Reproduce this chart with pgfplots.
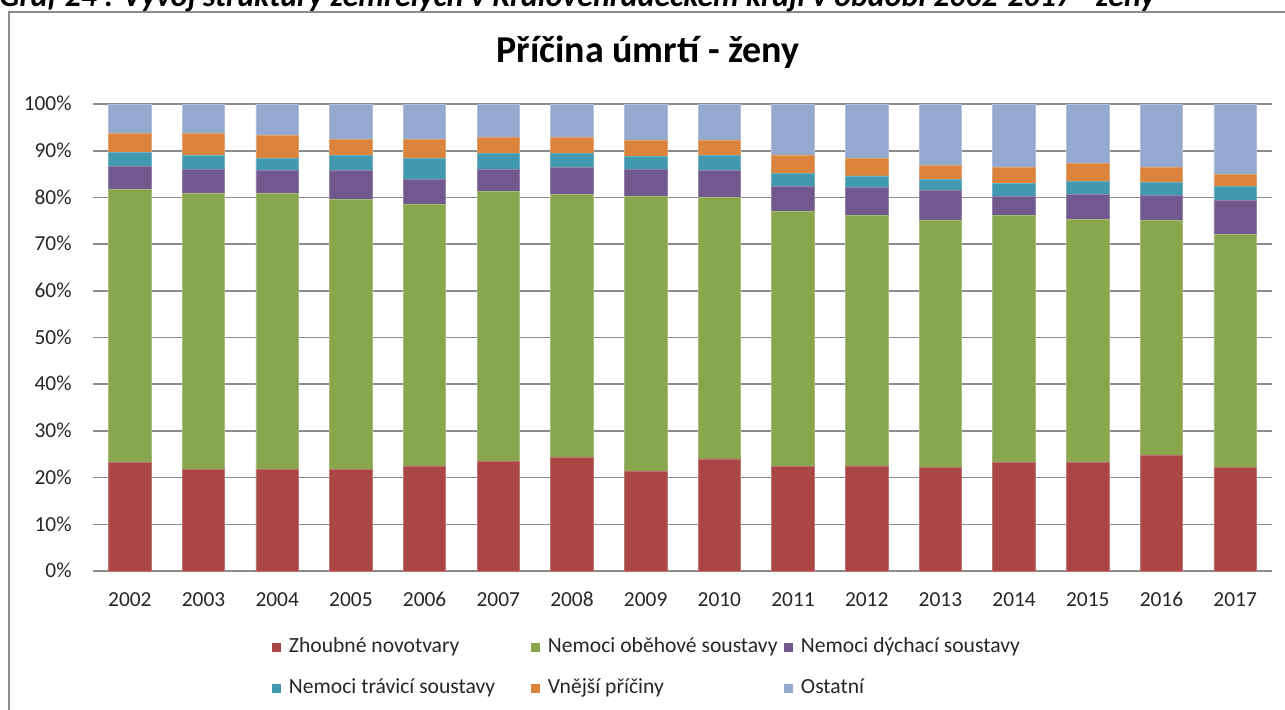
\documentclass[border=0pt]{standalone}
\usepackage{pgfplots}
\usepackage{pgfplotstable}
\pgfplotsset{compat=1.18}
\usepackage{fontspec}
\setmainfont{Carlito}
\definecolor{cRed}{HTML}{AA4644}
\definecolor{cGreen}{HTML}{89A54E}
\definecolor{cPurple}{HTML}{71588F}
\definecolor{cTeal}{HTML}{4198AF}
\definecolor{cOrange}{HTML}{DB843D}
\definecolor{cBlue}{HTML}{93A9CF}
\definecolor{cGrid}{HTML}{8C8C8C}
\definecolor{cText}{HTML}{262626}

\pgfplotstableread{
x red green purple teal orange other
0  23.2 58.6 4.8 3.0 4.1 6.3
1  21.8 59.1 5.0 3.2 4.6 6.3
2  21.8 59.1 4.8 2.7 4.8 6.8
3  21.8 57.8 6.1 3.2 3.6 7.5
4  22.5 55.9 5.5 4.5 4.1 7.5
5  23.4 57.8 4.9 3.4 3.3 7.2
6  24.3 56.4 5.7 3.0 3.5 7.1
7  21.3 59.0 5.6 2.8 3.6 7.7
8  24.0 55.9 5.8 3.2 3.4 7.7
9  22.3 54.8 5.2 2.8 4.0 10.9
10 22.5 53.7 5.9 2.5 3.8 11.6
11 22.1 52.9 6.4 2.5 3.0 13.1
12 23.2 53.0 4.1 2.7 3.4 13.6
13 23.2 52.1 5.4 2.7 3.9 12.7
14 24.8 50.2 5.5 2.7 3.2 13.6
15 22.1 50.0 7.3 2.9 2.7 15.0
}\data

\begin{document}
\begin{tikzpicture}
\useasboundingbox (0pt,0pt) rectangle (642.5pt,-354.5pt);
% outer frame
\draw[cGrid, line width=0.9pt] (4.5pt,-370pt) -- (4.5pt,-6pt) -- (660pt,-6pt);
% cut-off caption at the very top
\node[anchor=base west, inner sep=0pt] at (-0.5pt,-3.2pt)
  {\fontsize{15.9}{18}\selectfont\bfseries\itshape Graf 24 : Vývoj struktury zemřelých v~Královéhradeckém kraji v~období 2002-2017 - ženy};
% chart title
\node[anchor=base, inner sep=0pt, text=black] at (324pt,-31pt)
  {\fontsize{19}{22}\selectfont\bfseries Příčina úmrtí - ženy};
\begin{axis}[
  at={(46.5pt,-285.5pt)}, anchor=south west,
  scale only axis,
  width=589.5pt, height=233.5pt,
  ybar stacked,
  bar width=21.25pt,
  xmin=-0.5, xmax=15.5,
  ymin=0, ymax=100,
  xtick={0,...,15},
  xticklabels={2002,2003,2004,2005,2006,2007,2008,2009,2010,2011,2012,2013,2014,2015,2016,2017},
  ytick={0,10,...,100},
  yticklabel={\pgfmathprintnumber{\tick}\%},
  /pgf/number format/assume math mode=true,
  major tick length=0pt,
  axis lines*=left,
  x axis line style={draw=cGrid, line width=0.8pt},
  y axis line style={draw=none},
  ymajorgrids,
  major grid style={draw=cGrid, line width=0.8pt},
  tick label style={font=\fontsize{10.7}{12}\selectfont, text=cText, inner sep=0pt},
  xticklabel style={anchor=base, yshift=-17.5pt},
  yticklabel style={anchor=base east, xshift=-10.5pt, yshift=-3.35pt},
  legend columns=3,
  legend style={draw=none, fill=none, inner sep=0pt, outer sep=0pt,
    at={(axis description cs:0.1518,-0.1392)}, anchor=north west,
    font=\fontsize{10.8}{12}\selectfont, text=cText,
    nodes={inner sep=0pt, text height=8pt, text depth=2.5pt},
    cells={anchor=base west},
    row sep=10pt,
    /tikz/every odd column/.append style={column sep=4pt},
    /tikz/every even column/.append style={column sep=0pt}},
  legend image code/.code={\fill[#1, draw=none] (0pt,0pt) rectangle (4.5pt,4.5pt);},
  every axis plot/.append style={line width=0.4pt},
]
\addplot[fill=cRed, draw=cRed!75!white] table[x=x, y=red] {\data};
\addplot[fill=cGreen, draw=cGreen!75!white] table[x=x, y=green] {\data};
\addplot[fill=cPurple, draw=cPurple!75!white] table[x=x, y=purple] {\data};
\addplot[fill=cTeal, draw=cTeal!75!white] table[x=x, y=teal] {\data};
\addplot[fill=cOrange, draw=cOrange!75!white] table[x=x, y=orange] {\data};
\addplot[fill=cBlue, draw=cBlue!75!white] table[x=x, y=other] {\data};
\addlegendentry{\makebox[121pt][l]{Zhoubné novotvary}}
\addlegendentry{\makebox[118pt][l]{Nemoci oběhové soustavy}}
\addlegendentry{Nemoci dýchací soustavy}
\addlegendentry{\makebox[121pt][l]{Nemoci trávicí soustavy}}
\addlegendentry{\makebox[118pt][l]{Vnější příčiny}}
\addlegendentry{Ostatní}
\end{axis}
\end{tikzpicture}
\end{document}
